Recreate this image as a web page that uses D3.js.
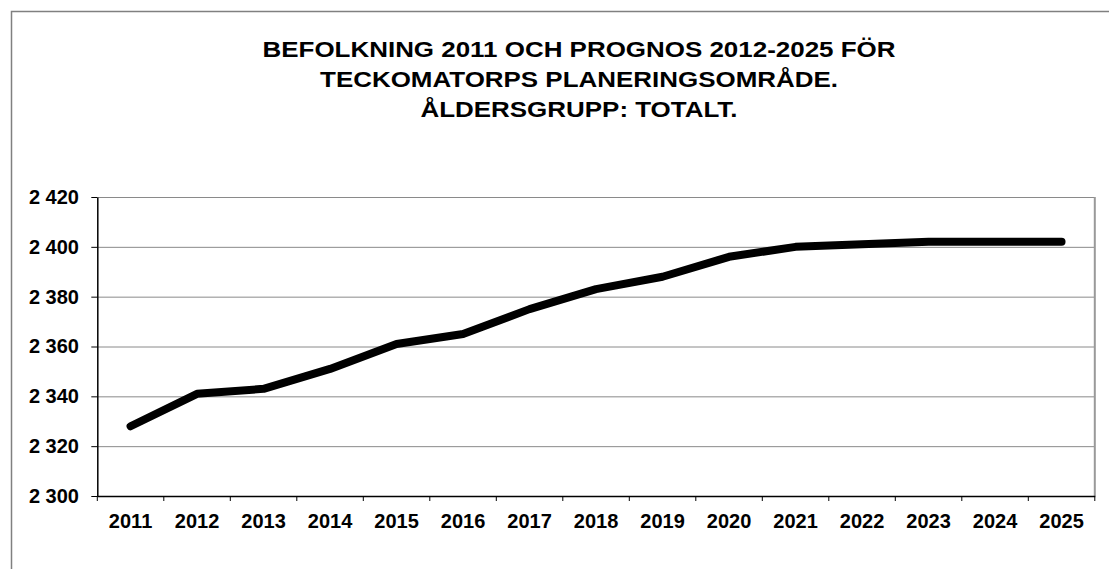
<!DOCTYPE html>
<html>
<head>
<meta charset="utf-8">
<script src="https://cdn.jsdelivr.net/npm/d3@7"></script>
<style>
  body { margin: 0; background: #fff; }
  text { font-family: "Liberation Sans", Arial, sans-serif; font-weight: bold; fill: #000; }
</style>
</head>
<body>
<div id="chart"></div>
<script>
// data
var years = ["2011","2012","2013","2014","2015","2016","2017","2018","2019","2020","2021","2022","2023","2024","2025"];
var population = [2328, 2341, 2343, 2351, 2361, 2365, 2375, 2383, 2388, 2396, 2400, 2401, 2402, 2402, 2402];
var yTicks = [2300, 2320, 2340, 2360, 2380, 2400, 2420];
var titleLines = ["BEFOLKNING 2011 OCH PROGNOS 2012-2025 FÖR", "TECKOMATORPS PLANERINGSOMRÅDE.", "ÅLDERSGRUPP: TOTALT."];

var W = 1109, H = 569;
var plot = {left: 97.3, right: 1094.8, top: 197, bottom: 496};

var svg = d3.select("#chart").append("svg")
    .attr("width", W)
    .attr("height", H);

// outer chart frame (runs off the right and bottom edges)
svg.append("path")
    .attr("d", "M11.5," + H + "V11.5H" + W)
    .attr("fill", "none")
    .attr("stroke", "#808080")
    .attr("stroke-width", 1.5);

// title, stretched a bit sideways like the source image
svg.selectAll(".title")
    .data(titleLines)
    .enter()
    .append("text")
    .attr("class", "title")
    .attr("text-anchor", "middle")
    .attr("font-size", 22)
    .attr("transform", function(d, i) { return "translate(579," + (56.7 + i * 30) + ") scale(1.18,1)"; })
    .text(function(d) { return d; });

var x = d3.scaleBand().domain(years).range([plot.left, plot.right]);
var y = d3.scaleLinear().domain([2300, 2420]).range([plot.bottom, plot.top]);

var sv = d3.formatLocale({decimal: ",", thousands: " ", grouping: [3], currency: ["", " kr"]});
var fmt = sv.format(",d");

// horizontal gridlines
svg.append("g")
    .attr("transform", "translate(" + plot.left + ",0)")
    .call(d3.axisLeft(y).tickValues(yTicks).tickSize(-(plot.right - plot.left)).tickFormat(""))
    .call(function(g) { g.select(".domain").remove(); })
    .selectAll("line")
    .attr("stroke", "#8a8a8a");

// right border of plot area
svg.append("line")
    .attr("x1", plot.right).attr("x2", plot.right)
    .attr("y1", plot.top).attr("y2", plot.bottom)
    .attr("stroke", "#999")
    .attr("stroke-width", 2);

// y axis
var yAxis = svg.append("g")
    .attr("transform", "translate(" + plot.left + ",0)")
    .call(d3.axisLeft(y).tickValues(yTicks).tickFormat(fmt).tickSize(6).tickSizeOuter(0).tickPadding(12.3));
yAxis.select(".domain").attr("stroke", "#000").attr("stroke-width", 1.5);
yAxis.selectAll("line").attr("stroke", "#000");
yAxis.selectAll("text").attr("font-size", 20).attr("font-family", null).attr("fill", "#000");

// x axis, labels centred in each band
var xAxis = svg.append("g")
    .attr("transform", "translate(0," + plot.bottom + ")")
    .call(d3.axisBottom(x).tickSize(0).tickSizeOuter(0).tickPadding(17.5));
xAxis.select(".domain").attr("stroke", "#000").attr("stroke-width", 1.5);
xAxis.selectAll("text").attr("font-size", 20).attr("font-family", null).attr("fill", "#000");

// x ticks sit on the band boundaries
var bounds = years.map(function(d) { return x(d); }).concat([plot.right]);
svg.selectAll(".xtick")
    .data(bounds)
    .enter()
    .append("line")
    .attr("class", "xtick")
    .attr("x1", function(d) { return d; })
    .attr("x2", function(d) { return d; })
    .attr("y1", plot.bottom)
    .attr("y2", plot.bottom + 5)
    .attr("stroke", "#000");

// the population line
var line = d3.line()
    .x(function(d, i) { return x(years[i]) + x.bandwidth() / 2; })
    .y(function(d) { return y(d); });

svg.append("path")
    .datum(population)
    .attr("d", line)
    .attr("fill", "none")
    .attr("stroke", "#000")
    .attr("stroke-width", 8)
    .attr("stroke-linecap", "round")
    .attr("stroke-linejoin", "round");
</script>
</body>
</html>
